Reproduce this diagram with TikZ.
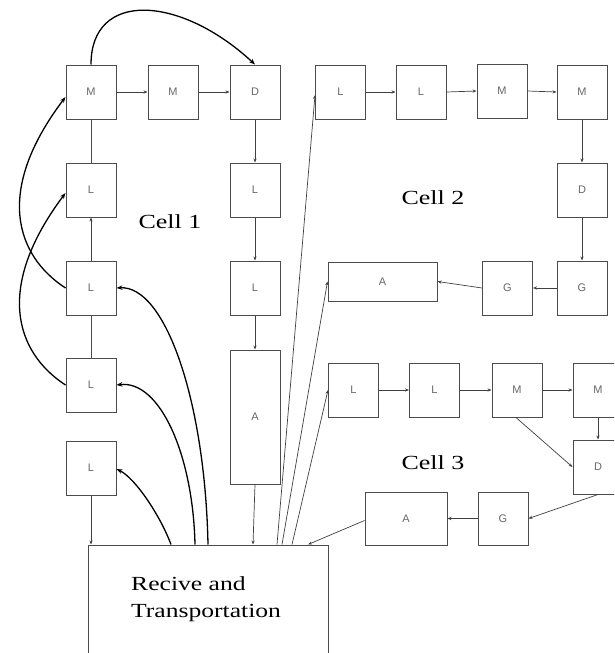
\documentclass[tikz,border=0pt]{standalone}
\usepackage{fontspec}
\setmainfont{Liberation Serif}
\newfontfamily\boxfont{Liberation Sans}
\usetikzlibrary{arrows.meta,calc}
\begin{document}
\begin{tikzpicture}[x=1pt,y=-1pt,
  bx/.style={draw=black!70, line width=1pt, minimum width=50pt, minimum height=54pt, inner sep=0pt,
             font=\boxfont\fontsize{11}{13}\selectfont, text=black!60},
  ln/.style={draw=black!75, line width=0.7pt, -{Stealth[length=4pt,width=3.2pt]}},
  pl/.style={draw=black!70, line width=0.9pt},
  cv/.style={draw=black, line width=1.3pt, -{Stealth[length=6pt,width=4.5pt]}},
  lbl/.style={font=\fontsize{20}{24}\selectfont, inner sep=0pt, text=black}]
\useasboundingbox (0,0) rectangle (614,653);
\clip (0,0) rectangle (614,653);

% Cell 1
\node[bx] (c1m1) at (91,92) {M};
\node[bx] (c1m2) at (173,92) {M};
\node[bx] (c1d) at (255,92) {D};
\node[bx] (c1l1) at (91,190) {L};
\node[bx] (c1l2) at (91,288) {L};
\node[bx] (c1l3) at (91,385) {L};
\node[bx] (c1l4) at (91,468) {L};
\node[bx] (c1l5) at (255,190) {L};
\node[bx] (c1l6) at (255,288) {L};
\node[bx, minimum height=134pt] (c1a) at (255,417) {A};

% Receive
\node[draw=black!70, line width=1pt, minimum width=240pt, minimum height=130pt, inner sep=0pt] (rt) at (208,610) {};
\node[lbl, anchor=base west] (rtx1) at (131,590) {\scalebox{1.28}[1]{Recive and}};
\node[lbl, anchor=base west] (rtx2) at (131,617) {\scalebox{1.28}[1]{Transportation}};

% Cell 2
\node[bx] (c2l1) at (340.5,92) {L};
\node[bx] (c2l2) at (421,92) {L};
\node[bx] (c2m1) at (502,91) {M};
\node[bx] (c2m2) at (582,92) {M};
\node[bx] (c2d) at (582,190) {D};
\node[bx] (c2g1) at (582,288) {G};
\node[bx] (c2g2) at (507.5,288) {G};
\node[bx, minimum width=109pt, minimum height=39pt] (c2a) at (382.5,281.5) {A};

% Cell 3
\node[bx] (c3l1) at (353.5,390) {L};
\node[bx] (c3l2) at (434.5,390) {L};
\node[bx] (c3m1) at (517,390) {M};
\node[bx] (c3m2) at (598,390) {M};
\node[bx] (c3d) at (598,467) {D};
\node[bx, minimum height=53pt] (c3g) at (503,518.5) {G};
\node[bx, minimum width=82pt, minimum height=53pt] (c3a) at (406,518.5) {A};

% Labels
\node[lbl] (cell1) at (170,222) {\scalebox{1.3}[1]{Cell 1}};
\node[lbl] (cell2) at (433,198) {\scalebox{1.3}[1]{Cell 2}};
\node[lbl] (cell3) at (433,463) {\scalebox{1.3}[1]{Cell 3}};

% Cell 1 connectors
\draw[pl] (c1m1) -- (c1l1);
\draw[ln] (c1l2) -- (c1l1);
\draw[pl] (c1l2) -- (c1l3);
\draw[ln] (c1l4.south) -- (c1l4.south |- rt.north);
\draw[ln] (c1m1) -- (c1m2);
\draw[ln] (c1m2) -- (c1d);
\draw[ln] (c1d) -- (c1l5);
\draw[ln] (c1l5) -- (c1l6);
\draw[ln] (c1l6) -- (c1a);
\draw[ln] (c1a.south) -- (253,0 |- rt.north);

% curves
\draw[cv] (c1m1.north) .. controls (91,-10) and (180,-5) .. (c1d.north);
\draw[cv] (c1l2.west) .. controls (15,255) and (-5,190) .. ($(c1m1.west)+(0,5)$);
\draw[cv] (c1l3.west) .. controls (15,352) and (-5,287) .. ($(c1l1.west)+(0,3)$);
\draw[cv] (208,0 |- rt.north) .. controls (205,400) and (165,285) .. (c1l2.east);
\draw[cv] (195,0 |- rt.north) .. controls (193,455) and (160,380) .. (c1l3.east);
\draw[cv] (171,0 |- rt.north) .. controls (160,515) and (135,478) .. ($(c1l4.east)+(0,1)$);

% lines from receive
\draw[ln] (277,0 |- rt.north) -- ($(c2l1.west)+(0,3)$);
\draw[ln] (282,0 |- rt.north) -- (c2a.west);
\draw[ln] (292,0 |- rt.north) -- (c3l1.west);
\draw[ln] ($(c3a.west)+(0,2)$) -- (308,0 |- rt.north);

% Cell 2 connectors
\draw[ln] (c2l1) -- (c2l2);
\draw[ln] (c2l2.east) -- (c2m1.west);
\draw[ln] (c2m1.east) -- (c2m2.west);
\draw[ln] (c2m2) -- (c2d);
\draw[ln] (c2d) -- (c2g1);
\draw[ln] (c2g1) -- (c2g2);
\draw[ln] (c2g2.west) -- (c2a.east);

% Cell 3 connectors
\draw[ln] (c3l1) -- (c3l2);
\draw[ln] (c3l2) -- (c3m1);
\draw[ln] (c3m1) -- (c3m2);
\draw[ln] (c3m2) -- (c3d);
\draw[ln] ($(c3m1.south)+(-1,0)$) -- (c3d.west);
\draw[ln] (c3d.south) -- (c3g.east);
\draw[ln] (c3g) -- (c3a);
\end{tikzpicture}
\end{document}
